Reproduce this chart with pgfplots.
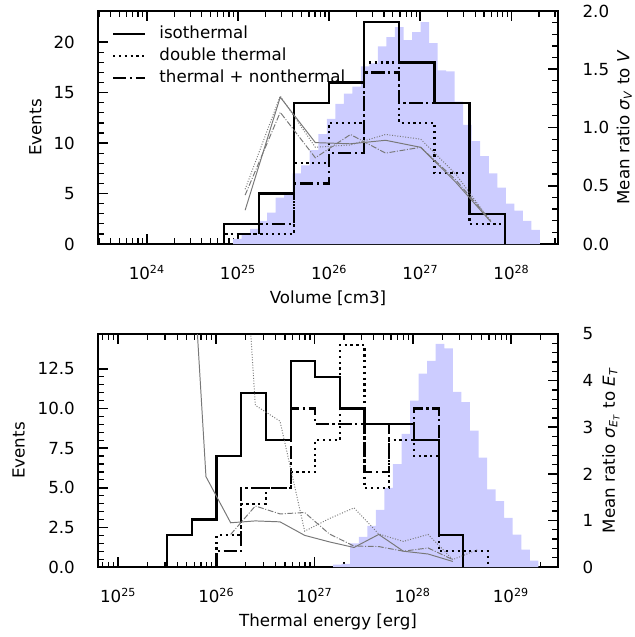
\documentclass[border=0pt,12pt]{standalone}
\usepackage{fontspec}
\setmainfont{DejaVu Sans}
\usepackage{pgfplots}
\pgfplotsset{compat=1.18}

\definecolor{simfill}{RGB}{204,204,255}
\definecolor{ratiogray}{RGB}{120,120,120}

\pgfplotsset{
  panel/.style={
    scale only axis, width=331.2pt, height=167.8pt,
    axis line style={line width=1.5pt},
    tick align=inside,
    major tick length=7pt, minor tick length=4pt,
    tick style={black, line width=1.2pt},
    minor tick style={line width=0.9pt},
    /pgf/number format/assume math mode=true,
    xticklabel style={yshift=-11pt},
    xlabel style={at={(axis description cs:0.5,0)}, anchor=north, yshift=-29.8pt},
  },
  leftpanel/.style={panel, ytick pos=left, yticklabel style={xshift=-12.5pt}},
  rightpanel/.style={panel, axis y line*=right, axis x line=none,
    yticklabel style={xshift=13.5pt}},
  iso/.style={black, line width=1.6pt, const plot mark left},
  dbl/.style={black, line width=1.6pt, dash pattern=on 1.6pt off 2.6pt, const plot mark left},
  tnt/.style={black, line width=1.6pt, dash pattern=on 9.6pt off 2.6pt on 1.6pt off 2.6pt, const plot mark left},
  risos/.style={ratiogray, line width=0.7pt},
  rdbl/.style={ratiogray, line width=0.7pt, dash pattern=on 0.7pt off 1.2pt},
  rtnt/.style={ratiogray, line width=0.7pt, dash pattern=on 4.2pt off 1.2pt on 0.7pt off 1.2pt},
}

\begin{document}
\begin{tikzpicture}
\path[use as bounding box] (-70.56pt,-282.96pt) rectangle (386.64pt,175.68pt);

% ---------------- top panel: volume ----------------
\begin{semilogxaxis}[leftpanel, at={(0,0)}, anchor=south west,
  xmin=2.92e23, xmax=3.24e28, ymin=0, ymax=23.1,
  xtick={1e24,1e25,1e26,1e27,1e28},
  xticklabels={10\textsuperscript{24},10\textsuperscript{25},10\textsuperscript{26},10\textsuperscript{27},10\textsuperscript{28}},
  minor xtick={3e23,4e23,5e23,6e23,7e23,8e23,9e23,
    2e24,3e24,4e24,5e24,6e24,7e24,8e24,9e24,
    2e25,3e25,4e25,5e25,6e25,7e25,8e25,9e25,
    2e26,3e26,4e26,5e26,6e26,7e26,8e26,9e26,
    2e27,3e27,4e27,5e27,6e27,7e27,8e27,9e27,
    2e28,3e28},
  ytick={0,5,10,15,20}, minor y tick num=4,
  xlabel={Volume [cm3]}, ylabel={Events},
  ylabel style={at={(axis description cs:-0.110,0.5)}, anchor=south},
  legend cell align=left,
  legend style={draw=none, fill=none, at={(axis description cs:0.0296,0.942)}, anchor=north west,
    inner sep=0pt, column sep=8.6pt, row sep=2.3pt,
    nodes={inner sep=1pt, text height=9pt, text depth=2.5pt}},
  legend image code/.code={\draw[#1] (0pt,0pt) -- (23pt,0pt);},
]
\addplot[fill=simfill, draw=none, const plot mark left, forget plot] coordinates {
  (8.831e24,0.5) (1.0952e25,1.0) (1.3583e25,1.5) (1.6847e25,2.3) (2.0893e25,3.1)
  (2.5912e25,4.6) (3.2137e25,5.1) (3.9857e25,7.0) (4.9431e25,7.8) (6.1306e25,9.3)
  (7.6033e25,10.9) (9.4298e25,12.4) (1.1695e26,13.9) (1.4505e26,14.9) (1.7989e26,15.6)
  (2.2311e26,17.6) (2.7669e26,17.9) (3.4316e26,19.6) (4.2560e26,20.5) (5.2784e26,21.5)
  (6.5464e26,20.2) (8.1190e26,21.0) (1.0069e27,22.0) (1.2488e27,19.9) (1.5488e27,17.2)
  (1.9209e27,17.1) (2.3823e27,14.1) (2.9546e27,11.8) (3.6644e27,10.2) (4.5446e27,8.7)
  (5.6364e27,7.0) (6.9904e27,5.6) (8.6696e27,4.0) (1.0752e28,3.3) (1.3335e28,2.3)
  (1.6538e28,1.4) (2.0512e28,1.4)} \closedcycle;
\addplot[iso] coordinates {(7.00e24,0) (7.00e24,2) (1.698e25,5) (4.12e25,14) (1e26,16)
  (2.427e26,22) (5.89e26,18) (1.429e27,14) (3.467e27,3) (8.41e27,0)};
\addlegendentry{isothermal}
\addplot[dbl] coordinates {(7.00e24,0) (7.00e24,1) (1.698e25,1) (4.12e25,8) (1e26,12)
  (2.427e26,18) (5.89e26,12) (1.429e27,7) (3.467e27,2) (8.41e27,0)};
\addlegendentry{double thermal}
\addplot[tnt] coordinates {(7.00e24,0) (7.00e24,1) (1.698e25,2) (4.12e25,6) (1e26,9)
  (2.427e26,17) (5.89e26,14) (1.429e27,14) (3.467e27,3) (8.41e27,0)};
\addlegendentry{thermal + nonthermal}
\end{semilogxaxis}

\begin{semilogxaxis}[rightpanel, at={(0,0)}, anchor=south west,
  xmin=2.92e23, xmax=3.24e28, ymin=0, ymax=2,
  ytick={0,0.5,1,1.5,2}, minor y tick num=4,
  yticklabel style={/pgf/number format/.cd, fixed, fixed zerofill, precision=1},
  ylabel={Mean ratio \textit{σ}\textsubscript{\textit{V}} to \textit{V}},
  ylabel style={at={(axis description cs:1.115,0.5)}, anchor=north},
]
\addplot[risos] coordinates {(1.199e25,0.29) (2.909e25,1.26) (7.06e25,0.87) (1.7135e26,0.86)
  (4.159e26,0.89) (1.009e27,0.83) (2.448e27,0.53) (5.94e27,0.19)};
\addplot[rdbl] coordinates {(1.199e25,0.47) (2.909e25,1.27) (7.06e25,0.83) (1.7135e26,0.85)
  (4.159e26,0.94) (1.009e27,0.90) (2.448e27,0.60) (5.94e27,0.19)};
\addplot[rtnt] coordinates {(1.199e25,0.42) (2.909e25,1.13) (7.06e25,0.74) (1.7135e26,0.94)
  (4.159e26,0.78) (1.009e27,0.83) (2.448e27,0.55) (5.94e27,0.20)};
\end{semilogxaxis}

% ---------------- bottom panel: thermal energy ----------------
\begin{semilogxaxis}[leftpanel, at={(0,-64.8pt)}, anchor=north west,
  xmin=6.25e24, xmax=3.02e29, ymin=0, ymax=14.7,
  xtick={1e25,1e26,1e27,1e28,1e29},
  xticklabels={10\textsuperscript{25},10\textsuperscript{26},10\textsuperscript{27},10\textsuperscript{28},10\textsuperscript{29}},
  minor xtick={7e24,8e24,9e24,
    2e25,3e25,4e25,5e25,6e25,7e25,8e25,9e25,
    2e26,3e26,4e26,5e26,6e26,7e26,8e26,9e26,
    2e27,3e27,4e27,5e27,6e27,7e27,8e27,9e27,
    2e28,3e28,4e28,5e28,6e28,7e28,8e28,9e28,
    2e29,3e29},
  ytick={0,2.5,5,7.5,10,12.5}, minor y tick num=4,
  yticklabel style={/pgf/number format/.cd, fixed, fixed zerofill, precision=1},
  xlabel={Thermal energy [erg]}, ylabel={Events},
  ylabel style={at={(axis description cs:-0.1465,0.5)}, anchor=south},
]
\addplot[fill=simfill, draw=none, const plot mark left] coordinates {
  (1.547e27,0.15) (1.891e27,0.2) (2.311e27,1.5) (2.824e27,1.9) (3.451e27,2.6)
  (4.218e27,3.6) (5.155e27,5.0) (6.299e27,6.5) (7.699e27,8.4) (9.408e27,10.5)
  (1.150e28,12.2) (1.405e28,13.0) (1.717e28,14.08) (2.099e28,13.8) (2.565e28,11.05)
  (3.134e28,10.4) (3.830e28,8.6) (4.681e28,6.9) (5.720e28,4.9) (6.990e28,4.16)
  (8.543e28,3.1) (1.044e29,2.05) (1.276e29,1.1) (1.559e29,0.4) (1.905e29,0.4)} \closedcycle;
\addplot[iso] coordinates {(3.162e25,0) (3.162e25,2) (5.637e25,3) (1.007e26,7) (1.795e26,11)
  (3.199e26,8) (5.715e26,13) (1.019e27,12) (1.816e27,10) (3.236e27,9) (5.781e27,9)
  (1.030e28,8) (1.837e28,2) (3.281e28,0)};
\addplot[dbl] coordinates {(1.007e26,0) (1.007e26,2) (1.795e26,4) (3.199e26,5) (5.715e26,6)
  (1.019e27,8) (1.816e27,14) (3.236e27,5) (5.781e27,8) (1.030e28,7) (1.837e28,1)
  (3.281e28,1) (5.848e28,0)};
\addplot[tnt] coordinates {(1.007e26,0) (1.007e26,1) (1.795e26,5) (3.199e26,5) (5.715e26,10)
  (1.019e27,9) (1.816e27,9) (3.236e27,6) (5.781e27,9) (1.030e28,10) (1.837e28,2)
  (3.281e28,0)};
\end{semilogxaxis}

\begin{semilogxaxis}[rightpanel, at={(0,-64.8pt)}, anchor=north west,
  xmin=6.25e24, xmax=3.02e29, ymin=0, ymax=5,
  ytick={0,1,2,3,4,5}, minor y tick num=4,
  ylabel={Mean ratio \textit{σ}\textsubscript{\textit{E}\textsubscript{\textit{T}}} to \textit{E}\textsubscript{\textit{T}}},
  ylabel style={at={(axis description cs:1.0835,0.5)}, anchor=north},
]
\addplot[risos] coordinates {(4.40e25,10.8) (7.85e25,1.94) (1.401e26,0.95) (2.497e26,0.99)
  (4.457e26,0.97) (7.95e26,0.68) (1.4175e27,0.54) (2.526e27,0.42) (4.5085e27,0.70)
  (8.04e27,0.34) (1.4335e28,0.28) (2.559e28,0.12)};
\addplot[rdbl] coordinates {(1.401e26,11.8) (2.497e26,3.47) (4.457e26,3.13) (7.95e26,0.77)
  (1.4175e27,1.04) (2.526e27,1.27) (4.5085e27,0.71) (8.04e27,0.55) (1.4335e28,0.70)
  (2.559e28,0.16) (4.5645e28,0.37)};
\addplot[rtnt] coordinates {(1.401e26,0.70) (2.497e26,1.31) (4.457e26,1.14) (7.95e26,1.17)
  (1.4175e27,0.71) (2.526e27,0.45) (4.5085e27,0.44) (8.04e27,0.34) (1.4335e28,0.41)
  (2.559e28,0.16)};
\end{semilogxaxis}
\end{tikzpicture}
\end{document}
